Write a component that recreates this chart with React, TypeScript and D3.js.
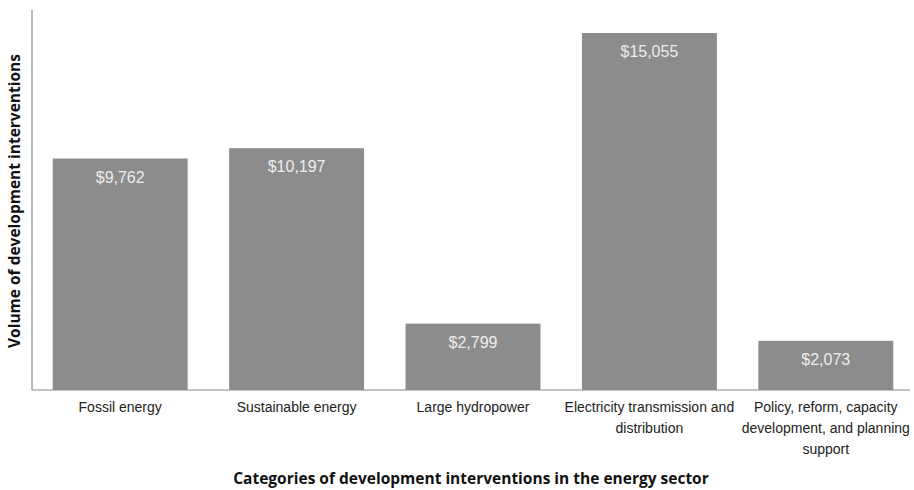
import React from "react";
import * as d3 from "d3";

const categories = [
  ["Fossil energy"],
  ["Sustainable energy"],
  ["Large hydropower"],
  ["Electricity transmission and", "distribution"],
  ["Policy, reform, capacity", "development, and planning", "support"],
];
const volumes = [9762, 10197, 2799, 15055, 2073];

const W = 914;
const H = 490;
const left = 32;
const right = 914;
const top = 8;
const bottom = 390;

export default function App() {
  const keys = categories.map((c) => c.join(" "));
  const x = d3.scaleBand<string>().domain(keys).range([left, right]).paddingInner(0.235).paddingOuter(0.1175);
  const y = d3.scaleLinear().domain([0, 16110]).range([bottom, top]);
  const fmt = d3.format(",");
  return (
    <svg width={W} height={H} style={{ position: "absolute", left: 0, top: 0 }}>
      <rect width={W} height={H} fill="#fff" />
      {volumes.map((v, i) => {
        const bx = x(keys[i])!;
        return (
          <g key={i}>
            <rect x={bx} y={y(v)} width={x.bandwidth()} height={bottom - y(v)} fill="#8c8c8c" />
            <text
              x={bx + x.bandwidth() / 2}
              y={y(v) + 24}
              textAnchor="middle"
              fontFamily="Liberation Sans, Arial, sans-serif"
              fontSize={16}
              fill="#ededed"
            >
              ${fmt(v)}
            </text>
            {categories[i].map((line, j) => (
              <text
                key={j}
                x={bx + x.bandwidth() / 2}
                y={412 + j * 21}
                textAnchor="middle"
                fontFamily="Liberation Sans, Arial, sans-serif"
                fontSize={14}
                fill="#222"
              >
                {line}
              </text>
            ))}
          </g>
        );
      })}
      <line x1={left} x2={left} y1={10} y2={bottom} stroke="#8a8a8a" strokeWidth={1.2} />
      <line x1={left} x2={910} y1={bottom} y2={bottom} stroke="#8a8a8a" strokeWidth={1.2} />
      <text
        x={471}
        y={484}
        textAnchor="middle"
        fontFamily="Open Sans, sans-serif"
        fontWeight="bold"
        fontSize={15.5}
        fill="#111"
      >
        Categories of development interventions in the energy sector
      </text>
      <text
        transform={`translate(20, 201) rotate(-90)`}
        textAnchor="middle"
        fontFamily="Open Sans, sans-serif"
        fontWeight="bold"
        fontSize={15.5}
        fill="#111"
      >
        Volume of development interventions
      </text>
    </svg>
  );
}
